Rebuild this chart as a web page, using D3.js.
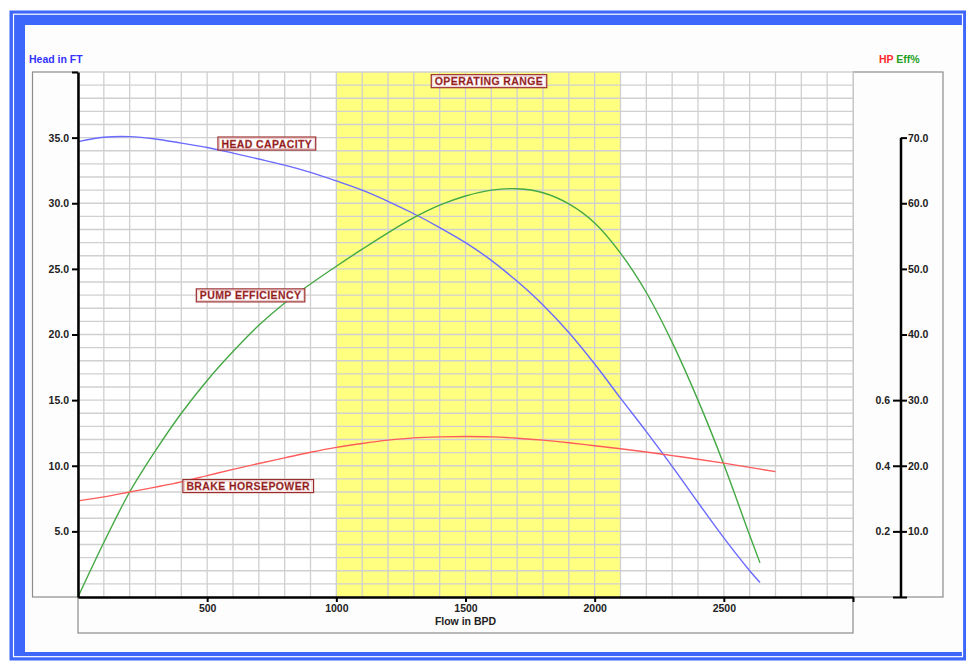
<!DOCTYPE html>
<html>
<head>
<meta charset="utf-8">
<script src="https://cdn.jsdelivr.net/npm/d3@7"></script>
<style>
  body { margin: 0; background: #fff; }
  svg text { font-family: "Liberation Sans", Arial, sans-serif; font-weight: bold; }
</style>
</head>
<body>
<div id="pumpCurve"></div>
<script>
// flow (BPD) vs head, efficiency and brake horsepower
const headFlow = [0, 100, 200, 300, 400, 500, 600, 700, 800, 900, 1000, 1100, 1200, 1300, 1400,
  1500, 1600, 1700, 1800, 1900, 2000, 2100, 2200, 2300, 2400, 2500, 2600, 2640];
const headFt = [34.7, 35.03, 35.08, 34.9, 34.58, 34.25, 33.82, 33.37, 32.9, 32.35, 31.7, 31.0, 30.15, 29.2, 28.15,
  27.0, 25.65, 24.05, 22.25, 20.15, 17.75, 15.15, 12.6, 9.95, 7.2, 4.5, 2.0, 1.1];

const effFlow = headFlow;
const effPct = [0, 8.3, 16.0, 22.3, 28.0, 33.0, 37.4, 41.4, 44.8, 47.7, 50.4, 53.0, 55.5, 57.8, 59.7,
  61.1, 62.0, 62.2, 61.6, 59.9, 57.0, 52.4, 46.4, 38.8, 30.0, 20.2, 9.4, 5.2];

const hpFlow = [0, 100, 200, 300, 400, 500, 600, 700, 800, 900, 1000, 1100, 1200, 1300, 1400,
  1500, 1600, 1700, 1800, 1900, 2000, 2100, 2200, 2300, 2400, 2500, 2600, 2700];
const hpVal = [0.293, 0.305, 0.32, 0.335, 0.351, 0.37, 0.389, 0.407, 0.424, 0.441, 0.456, 0.468, 0.478, 0.485, 0.488,
  0.489, 0.488, 0.484, 0.478, 0.47, 0.461, 0.452, 0.442, 0.431, 0.42, 0.408, 0.395, 0.382];

const operatingRange = [1000, 2100];

const flowTicks = [500, 1000, 1500, 2000, 2500, 3000];
const headTicks = [5, 10, 15, 20, 25, 30, 35, 40];
const effTicks = [0, 10, 20, 30, 40, 50, 60, 70];
const hpTicks = [0, 0.2, 0.4, 0.6];

// annotation boxes: text, flow, head (centre)
const labels = [
  { text: "OPERATING RANGE", flow: 1591, head: 39.3 },
  { text: "HEAD CAPACITY", flow: 731, head: 34.55 },
  { text: "PUMP EFFICIENCY", flow: 668, head: 22.98 },
  { text: "BRAKE HORSEPOWER", flow: 659, head: 8.45 }
];

const W = 967, H = 662;
const plot = { left: 78, right: 853, top: 72, bottom: 597 };

const svg = d3.select("#pumpCurve").append("svg")
  .attr("width", W).attr("height", H);

const x = d3.scaleLinear().domain([0, 3000]).range([plot.left, plot.right]);
const yHead = d3.scaleLinear().domain([0, 40]).range([plot.bottom, plot.top]);
const yEff = d3.scaleLinear().domain([0, 80]).range([plot.bottom, plot.top]);
const yHp = d3.scaleLinear().domain([0, 1.6]).range([plot.bottom, plot.top]);

drawFrame();
drawBoxes();
drawPlotArea();
drawCurves();
drawAxes();
drawLabels();

function drawFrame() {
  svg.append("rect").attr("width", W).attr("height", H).attr("fill", "#fff");
  svg.append("rect")
    .attr("x", 9.5).attr("y", 10.5).attr("width", 956.5).attr("height", 650)
    .attr("fill", "#3d66fa");
  svg.append("rect")
    .attr("x", 13.5).attr("y", 14.2).attr("width", 949).attr("height", 642.5)
    .attr("fill", "none").attr("stroke", "#fff").attr("stroke-width", 1.2);
  svg.append("rect")
    .attr("x", 25).attr("y", 25).attr("width", 937).attr("height", 627)
    .attr("fill", "#fdfdfd");
}

function drawBoxes() {
  const g = svg.append("g").attr("fill", "none").attr("stroke", "#8c8c8c").attr("stroke-width", 1.2);
  g.append("rect").attr("x", 32.5).attr("y", plot.top).attr("width", plot.left - 32.5).attr("height", plot.bottom - plot.top);
  g.append("rect").attr("x", plot.right).attr("y", plot.top).attr("width", 943 - plot.right).attr("height", plot.bottom - plot.top);
  g.append("rect").attr("x", plot.left).attr("y", plot.bottom).attr("width", plot.right - plot.left).attr("height", 633 - plot.bottom);
}

function drawPlotArea() {
  svg.append("rect")
    .attr("x", plot.left).attr("y", plot.top)
    .attr("width", plot.right - plot.left).attr("height", plot.bottom - plot.top)
    .attr("fill", "#fff");

  svg.append("rect")
    .attr("x", x(operatingRange[0])).attr("y", plot.top)
    .attr("width", x(operatingRange[1]) - x(operatingRange[0]))
    .attr("height", plot.bottom - plot.top)
    .attr("fill", "#ffff80");

  // grid every 100 BPD and every 1 ft
  const grid = svg.append("g").attr("stroke", "#d0d0d0").attr("stroke-width", 1.3);
  grid.selectAll("line.v")
    .data(d3.range(100, 3001, 100))
    .join("line")
    .attr("x1", d => x(d)).attr("x2", d => x(d))
    .attr("y1", plot.top).attr("y2", plot.bottom);
  grid.selectAll("line.h")
    .data(d3.range(1, 41, 1))
    .join("line")
    .attr("x1", plot.left).attr("x2", plot.right)
    .attr("y1", d => yHead(d)).attr("y2", d => yHead(d));
}

function drawCurves() {
  const series = [
    { flow: headFlow, vals: headFt, y: yHead, color: "#6a6aff" },
    { flow: effFlow, vals: effPct, y: yEff, color: "#44a844" },
    { flow: hpFlow, vals: hpVal, y: yHp, color: "#ff5c5c" }
  ];
  series.forEach(s => {
    const line = d3.line()
      .x((d, i) => x(s.flow[i]))
      .y(d => s.y(d))
      .curve(d3.curveCatmullRom.alpha(0.5));
    svg.append("path")
      .attr("d", line(s.vals))
      .attr("fill", "none")
      .attr("stroke", s.color)
      .attr("stroke-width", 1.4);
  });
}

function styleAxis(g) {
  g.selectAll("text").attr("fill", "#222").style("font-size", "10.5px");
  g.selectAll("line").attr("stroke", "#000").attr("stroke-width", 2);
  g.select(".domain").attr("stroke", "#000").attr("stroke-width", 2.5);
}

function drawAxes() {
  svg.append("g")
    .attr("transform", `translate(${plot.left},0)`)
    .call(d3.axisLeft(yHead).tickValues(headTicks).tickSize(6).tickSizeOuter(0).tickPadding(3)
      .tickFormat(d => d === 40 ? "" : d3.format(".1f")(d)))
    .call(styleAxis);

  svg.append("g")
    .attr("transform", `translate(0,${plot.bottom})`)
    .call(d3.axisBottom(x).tickValues(flowTicks).tickSize(5).tickSizeOuter(0).tickPadding(3)
      .tickFormat(d => d === 3000 ? "" : d))
    .call(styleAxis);

  svg.append("text")
    .attr("x", x(1500)).attr("y", 625)
    .attr("text-anchor", "middle")
    .attr("fill", "#222").style("font-size", "10.5px")
    .text("Flow in BPD");

  // right axis: efficiency ticks to the right, hp ticks to the left
  const axisX = 901;
  svg.append("line")
    .attr("x1", axisX).attr("x2", axisX)
    .attr("y1", yEff(70)).attr("y2", plot.bottom)
    .attr("stroke", "#000").attr("stroke-width", 2.5);

  const effAxis = svg.append("g")
    .attr("transform", `translate(${axisX},0)`)
    .call(d3.axisRight(yEff).tickValues(effTicks).tickSize(6).tickPadding(1)
      .tickFormat(d => d === 0 ? "" : d3.format(".1f")(d)))
    .call(styleAxis);
  effAxis.select(".domain").remove();

  const hpAxis = svg.append("g")
    .attr("transform", `translate(${axisX},0)`)
    .call(d3.axisLeft(yHp).tickValues(hpTicks).tickSize(8).tickPadding(3)
      .tickFormat(d => d === 0 ? "" : d3.format(".1f")(d)))
    .call(styleAxis);
  hpAxis.select(".domain").remove();

  svg.append("text")
    .attr("x", 29).attr("y", 63)
    .attr("fill", "#3333ff").style("font-size", "10.5px")
    .text("Head in FT");

  const rt = svg.append("text")
    .attr("x", 879).attr("y", 63)
    .style("font-size", "10.5px");
  rt.append("tspan").attr("fill", "#ff2a2a").text("HP ");
  rt.append("tspan").attr("fill", "#22a022").text("Eff%");
}

function drawLabels() {
  labels.forEach(l => {
    const cx = x(l.flow), cy = yHead(l.head);
    const g = svg.append("g");
    const rect = g.append("rect");
    const inner = g.append("rect");
    const t = g.append("text")
      .attr("x", cx).attr("y", cy + 4)
      .attr("text-anchor", "middle")
      .attr("fill", "#8a1414")
      .attr("stroke", "#c06060").attr("stroke-width", 0.3)
      .style("font-size", "10.5px")
      .style("letter-spacing", "0.4px")
      .text(l.text);
    const w = t.node().getComputedTextLength() + 7;
    rect.attr("x", cx - w / 2).attr("y", cy - 6.5).attr("width", w).attr("height", 13)
      .attr("fill", "#fff").attr("stroke", "#9a2c2c").attr("stroke-width", 1.2);
    inner.attr("x", cx - w / 2 + 1.5).attr("y", cy - 5).attr("width", w - 3).attr("height", 10)
      .attr("fill", "none").attr("stroke", "#e6c0c0").attr("stroke-width", 0.8);
  });
}
</script>
</body>
</html>
